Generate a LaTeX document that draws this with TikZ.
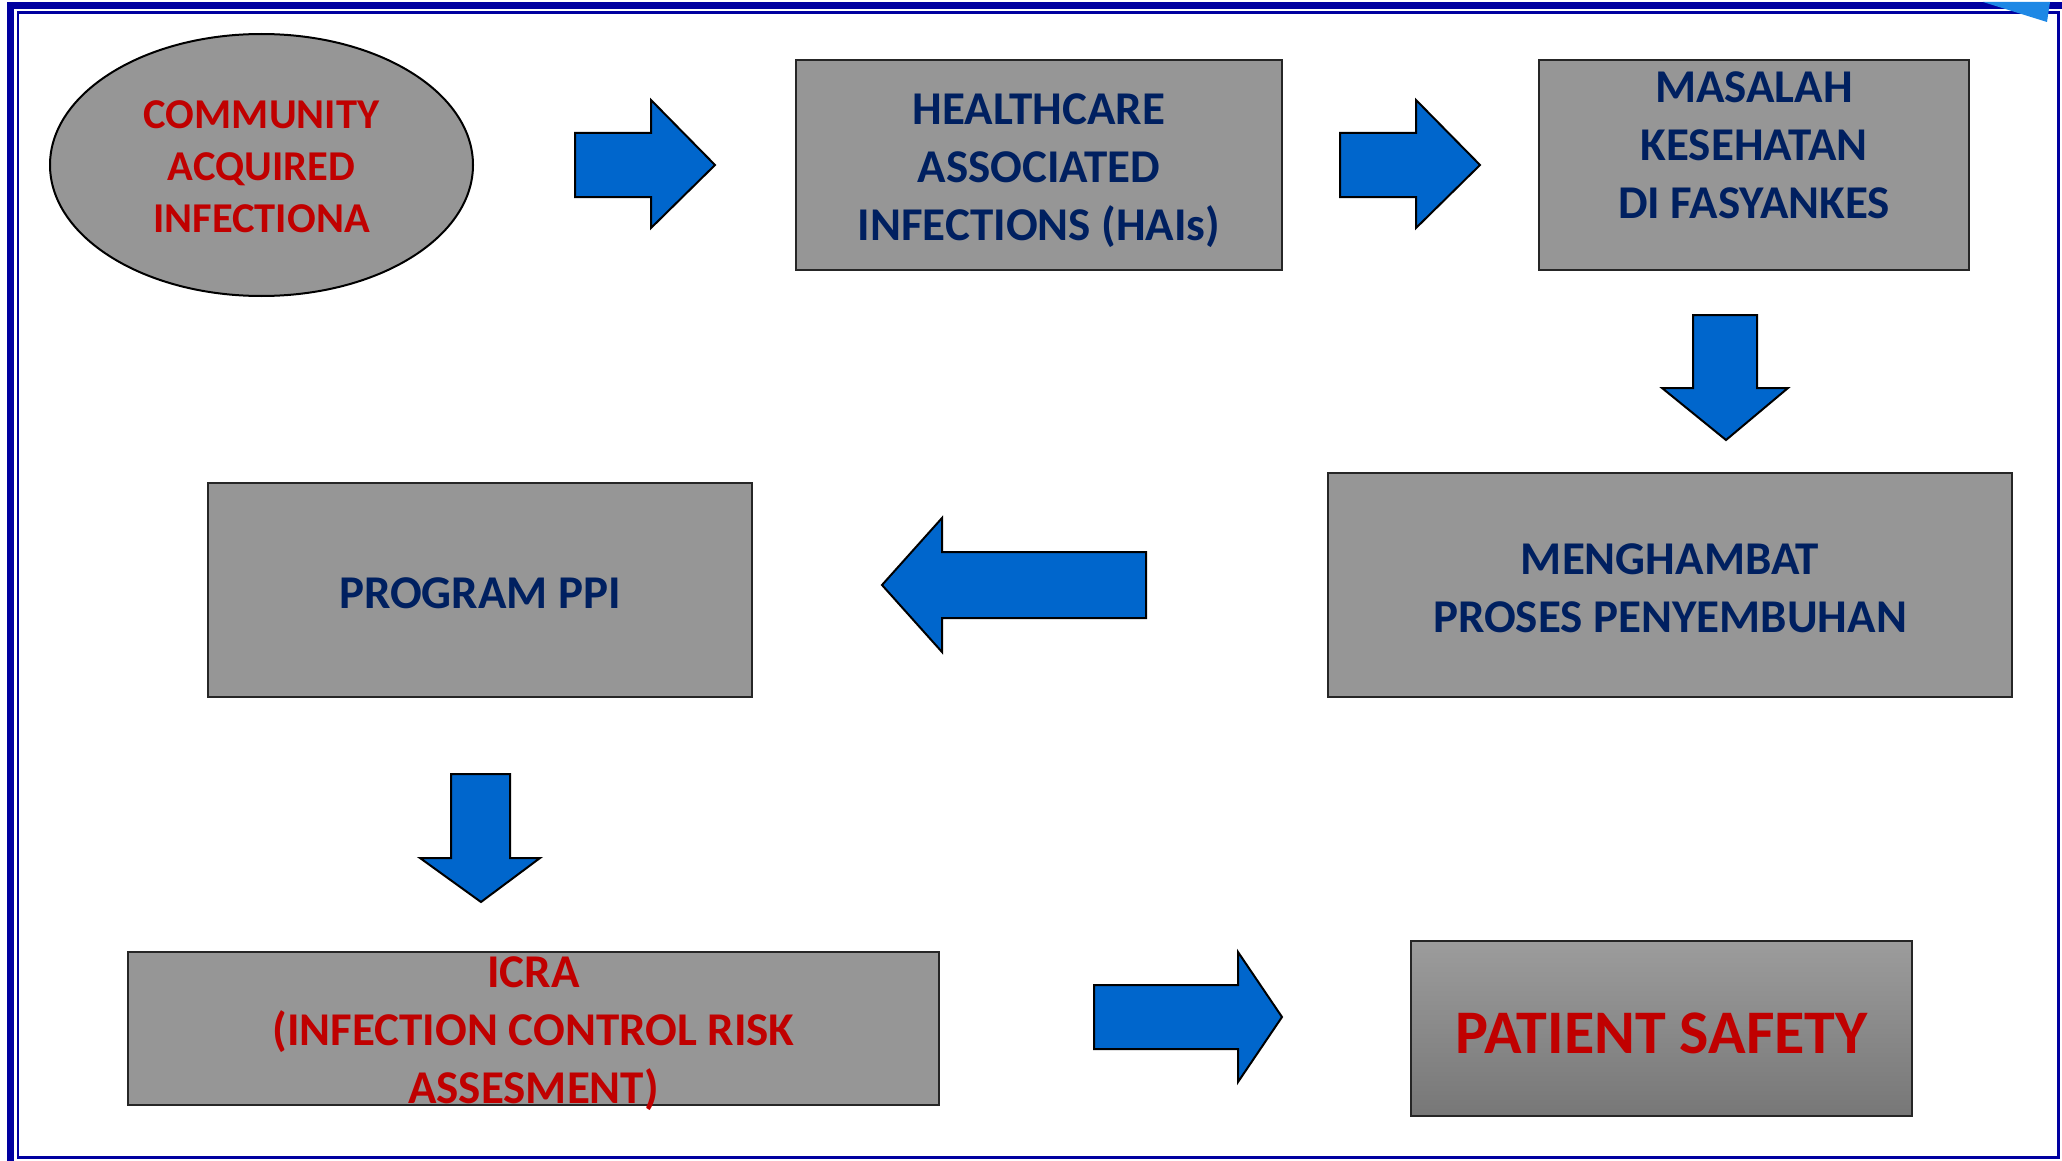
\documentclass[tikz,border=0pt]{standalone}
\usepackage{fontspec}
\setmainfont{Carlito}
\usetikzlibrary{shapes.geometric}
\definecolor{navy}{HTML}{002060}
\definecolor{alert}{HTML}{C00000}
\definecolor{boxgrey}{HTML}{969696}
\definecolor{psTop}{HTML}{9C9C9C}
\definecolor{psBot}{HTML}{777777}
\definecolor{arrowblue}{HTML}{0066CC}
\definecolor{frameblue}{HTML}{0000A0}
\definecolor{cornerblue}{HTML}{1E88E5}

\begin{document}
\begin{tikzpicture}[
  x=0.5pt, y=-0.5pt,
  box/.style={draw=black!85, line width=1pt, fill=boxgrey, inner sep=0pt},
  navytxt/.style={font=\bfseries\fontsize{23.5}{29}\selectfont, text=navy, align=center},
  redtxt/.style={font=\bfseries\fontsize{23.5}{29}\selectfont, text=alert, align=center},
  blk/.style={draw=black, line width=1pt, fill=arrowblue, line join=miter},
]
\useasboundingbox (0,0) rectangle (2062,1161);

% ---------- frame ----------
\draw[frameblue, line width=3.5pt] (10.5,1161) -- (10.5,5.5) -- (2062,5.5);
\draw[frameblue, line width=1.2pt] (18,12.5) rectangle (2058.5,1157.5);
\fill[cornerblue] (1983,2) -- (2050,2) -- (2047,22) -- cycle;

% ---------- top row ----------
\node[ellipse, draw=black, line width=1pt, fill=boxgrey, inner sep=0pt,
  minimum width=211.5pt, minimum height=131pt] (cai) at (261.5,165) {};
\node[text=alert, align=center, font=\bfseries\fontsize{21.25}{26}\selectfont]
  (caitxt) at ([yshift=-1pt]cai.center) {COMMUNITY\\ACQUIRED\\INFECTIONA};
\node[box, minimum width=243pt, minimum height=105pt] (hai) at (1039,165) {};
\node[navytxt] (haitxt) at ([yshift=-3pt]hai.center) {HEALTHCARE\\ASSOCIATED\\INFECTIONS (HAIs)};
\node[box, minimum width=215pt, minimum height=105pt] (masalah) at (1754,165) {};
\node[navytxt] (masalahtxt) at ([yshift=10pt]masalah.center) {MASALAH\\KESEHATAN\\DI FASYANKES};

% ---------- middle row ----------
\node[box, minimum width=342pt, minimum height=112pt] (hambat) at (1670,585) {};
\node[navytxt] (hambattxt) at ([yshift=-1.5pt]hambat.center) {MENGHAMBAT\\PROSES PENYEMBUHAN};
\node[box, minimum width=272pt, minimum height=107pt] (ppi) at (480,590) {};
\node[navytxt] (ppitxt) at ([yshift=-1.5pt]ppi.center) {PROGRAM PPI};

% ---------- bottom row ----------
\node[box, minimum width=405.5pt, minimum height=76.5pt] (icra) at (533.5,1028.5) {};
\node[redtxt] (icratxt) at ([yshift=-2.5pt]icra.center) {ICRA\\(INFECTION CONTROL RISK\\ASSESMENT)};
\node[draw=black!85, line width=1pt, top color=psTop, bottom color=psBot, inner sep=0pt,
  minimum width=250.5pt, minimum height=87.5pt] (safety) at (1661.5,1028.5) {};
\node[text=alert, font=\bfseries\fontsize{31}{37}\selectfont]
  (safetytxt) at ([yshift=-2.5pt]safety.center) {PATIENT SAFETY};

% ---------- block arrows ----------
% community -> HAIs
\draw[blk] (575,133) -- (651,133) -- (651,100) -- (715,165) -- (651,228) -- (651,197) -- (575,197) -- cycle;
% HAIs -> masalah
\draw[blk] (1340,133) -- (1416,133) -- (1416,100) -- (1480,165) -- (1416,228) -- (1416,197) -- (1340,197) -- cycle;
% masalah -> menghambat
\draw[blk] (1693,315) -- (1757,315) -- (1757,388) -- (1788,388) -- (1726,440) -- (1662,388) -- (1693,388) -- cycle;
% menghambat -> program PPI
\draw[blk] (1146,552) -- (942,552) -- (942,518) -- (882,585) -- (942,652) -- (942,618) -- (1146,618) -- cycle;
% program PPI -> ICRA
\draw[blk] (451,774) -- (510,774) -- (510,858) -- (540,858) -- (481,902) -- (420,858) -- (451,858) -- cycle;
% ICRA -> patient safety
\draw[blk] (1094,985) -- (1238,985) -- (1238,952) -- (1282,1017) -- (1238,1082) -- (1238,1049) -- (1094,1049) -- cycle;

\end{tikzpicture}
\end{document}
